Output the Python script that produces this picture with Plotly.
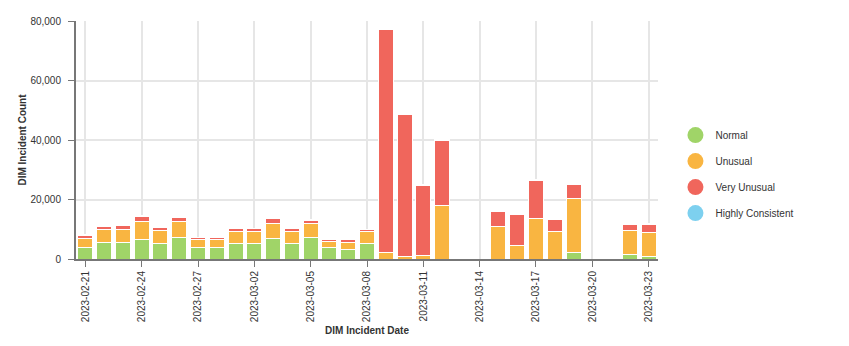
import plotly.graph_objects as go

dates = ["2023-02-21", "2023-02-22", "2023-02-23", "2023-02-24", "2023-02-25", "2023-02-26",
         "2023-02-27", "2023-02-28", "2023-03-01", "2023-03-02", "2023-03-03", "2023-03-04",
         "2023-03-05", "2023-03-06", "2023-03-07", "2023-03-08", "2023-03-09", "2023-03-10",
         "2023-03-11", "2023-03-12", "2023-03-15", "2023-03-16", "2023-03-17", "2023-03-18",
         "2023-03-19", "2023-03-22", "2023-03-23"]

normal = [3700, 5700, 5700, 6600, 5300, 7300, 3700, 3700, 5300, 5300, 7050, 5300,
          7300, 3700, 3350, 5300, 0, 0, 0, 0, 0, 0, 0, 0, 2100, 1550, 900]
unusual = [3350, 4300, 4300, 5950, 4350, 5150, 2700, 2700, 4000, 3800, 5050, 3800,
           4800, 2350, 2350, 3800, 2200, 900, 1200, 18150, 11000, 4700, 13700, 9300,
           18300, 8100, 8050]
very_unusual = [900, 1000, 1100, 1800, 1000, 1550, 700, 700, 1000, 1000, 1350, 1000,
                1000, 650, 950, 650, 74800, 47700, 23550, 21750, 5000, 10400, 12750, 4000,
                4800, 2000, 2700]
highly_consistent = [150] * len(dates)

series = [
    ("Normal", normal, "#a0d468"),
    ("Unusual", unusual, "#f9b541"),
    ("Very Unusual", very_unusual, "#f0665c"),
    ("Highly Consistent", highly_consistent, "#7dd0ef"),
]

fig = go.Figure()
for name, vals, col in series:
    fig.add_trace(go.Bar(
        x=dates, y=vals, name=name, marker=dict(color=col, line=dict(color="white", width=1)),
        width=0.8 * 86400000, showlegend=False,
    ))
for name, vals, col in series:
    fig.add_trace(go.Scatter(
        x=[None], y=[None], mode="markers", name=name, legendgroup=name,
        marker=dict(color=col, size=16, symbol="circle"),
    ))

font_family = "Liberation Sans, Arial, sans-serif"
fig.update_layout(
    barmode="stack",
    width=849, height=346,
    margin=dict(l=76, r=191, t=21, b=87, autoexpand=False),
    plot_bgcolor="white", paper_bgcolor="white",
    font=dict(family=font_family, size=10, color="#333"),
    legend=dict(x=1.03, y=0.357, yanchor="middle", xanchor="left", traceorder="grouped",
                font=dict(size=10, color="#333"), tracegroupgap=7, itemsizing="trace"),
    bargap=0.2,
)
fig.update_xaxes(
    type="date", automargin=False,
    range=["2023-02-20 12:00", "2023-03-23 12:00"],
    tick0="2023-02-21", dtick=3 * 86400000, tickformat="%Y-%m-%d", tickangle=-90,
    showgrid=True, gridcolor="#e6e6e6", gridwidth=1.5,
    showline=True, linecolor="#777", linewidth=2,
    ticks="outside", ticklen=6, tickcolor="#777",
    title=dict(text="<b>DIM Incident Date</b>", font=dict(size=10, color="#333"), standoff=6),
    tickfont=dict(size=10, color="#333"),
)
fig.update_yaxes(
    automargin=False,
    range=[0, 80000], dtick=20000, tickformat=",",
    showgrid=True, gridcolor="#e6e6e6", gridwidth=1.5,
    showline=True, linecolor="#777", linewidth=2,
    ticks="outside", ticklen=6, tickcolor="#777", ticklabelstandoff=5,
    title=dict(text="<b>DIM Incident Count</b>", font=dict(size=10, color="#333"), standoff=2),
    tickfont=dict(size=10, color="#333"),
    zeroline=False,
)

fig.write_html("out.html")
